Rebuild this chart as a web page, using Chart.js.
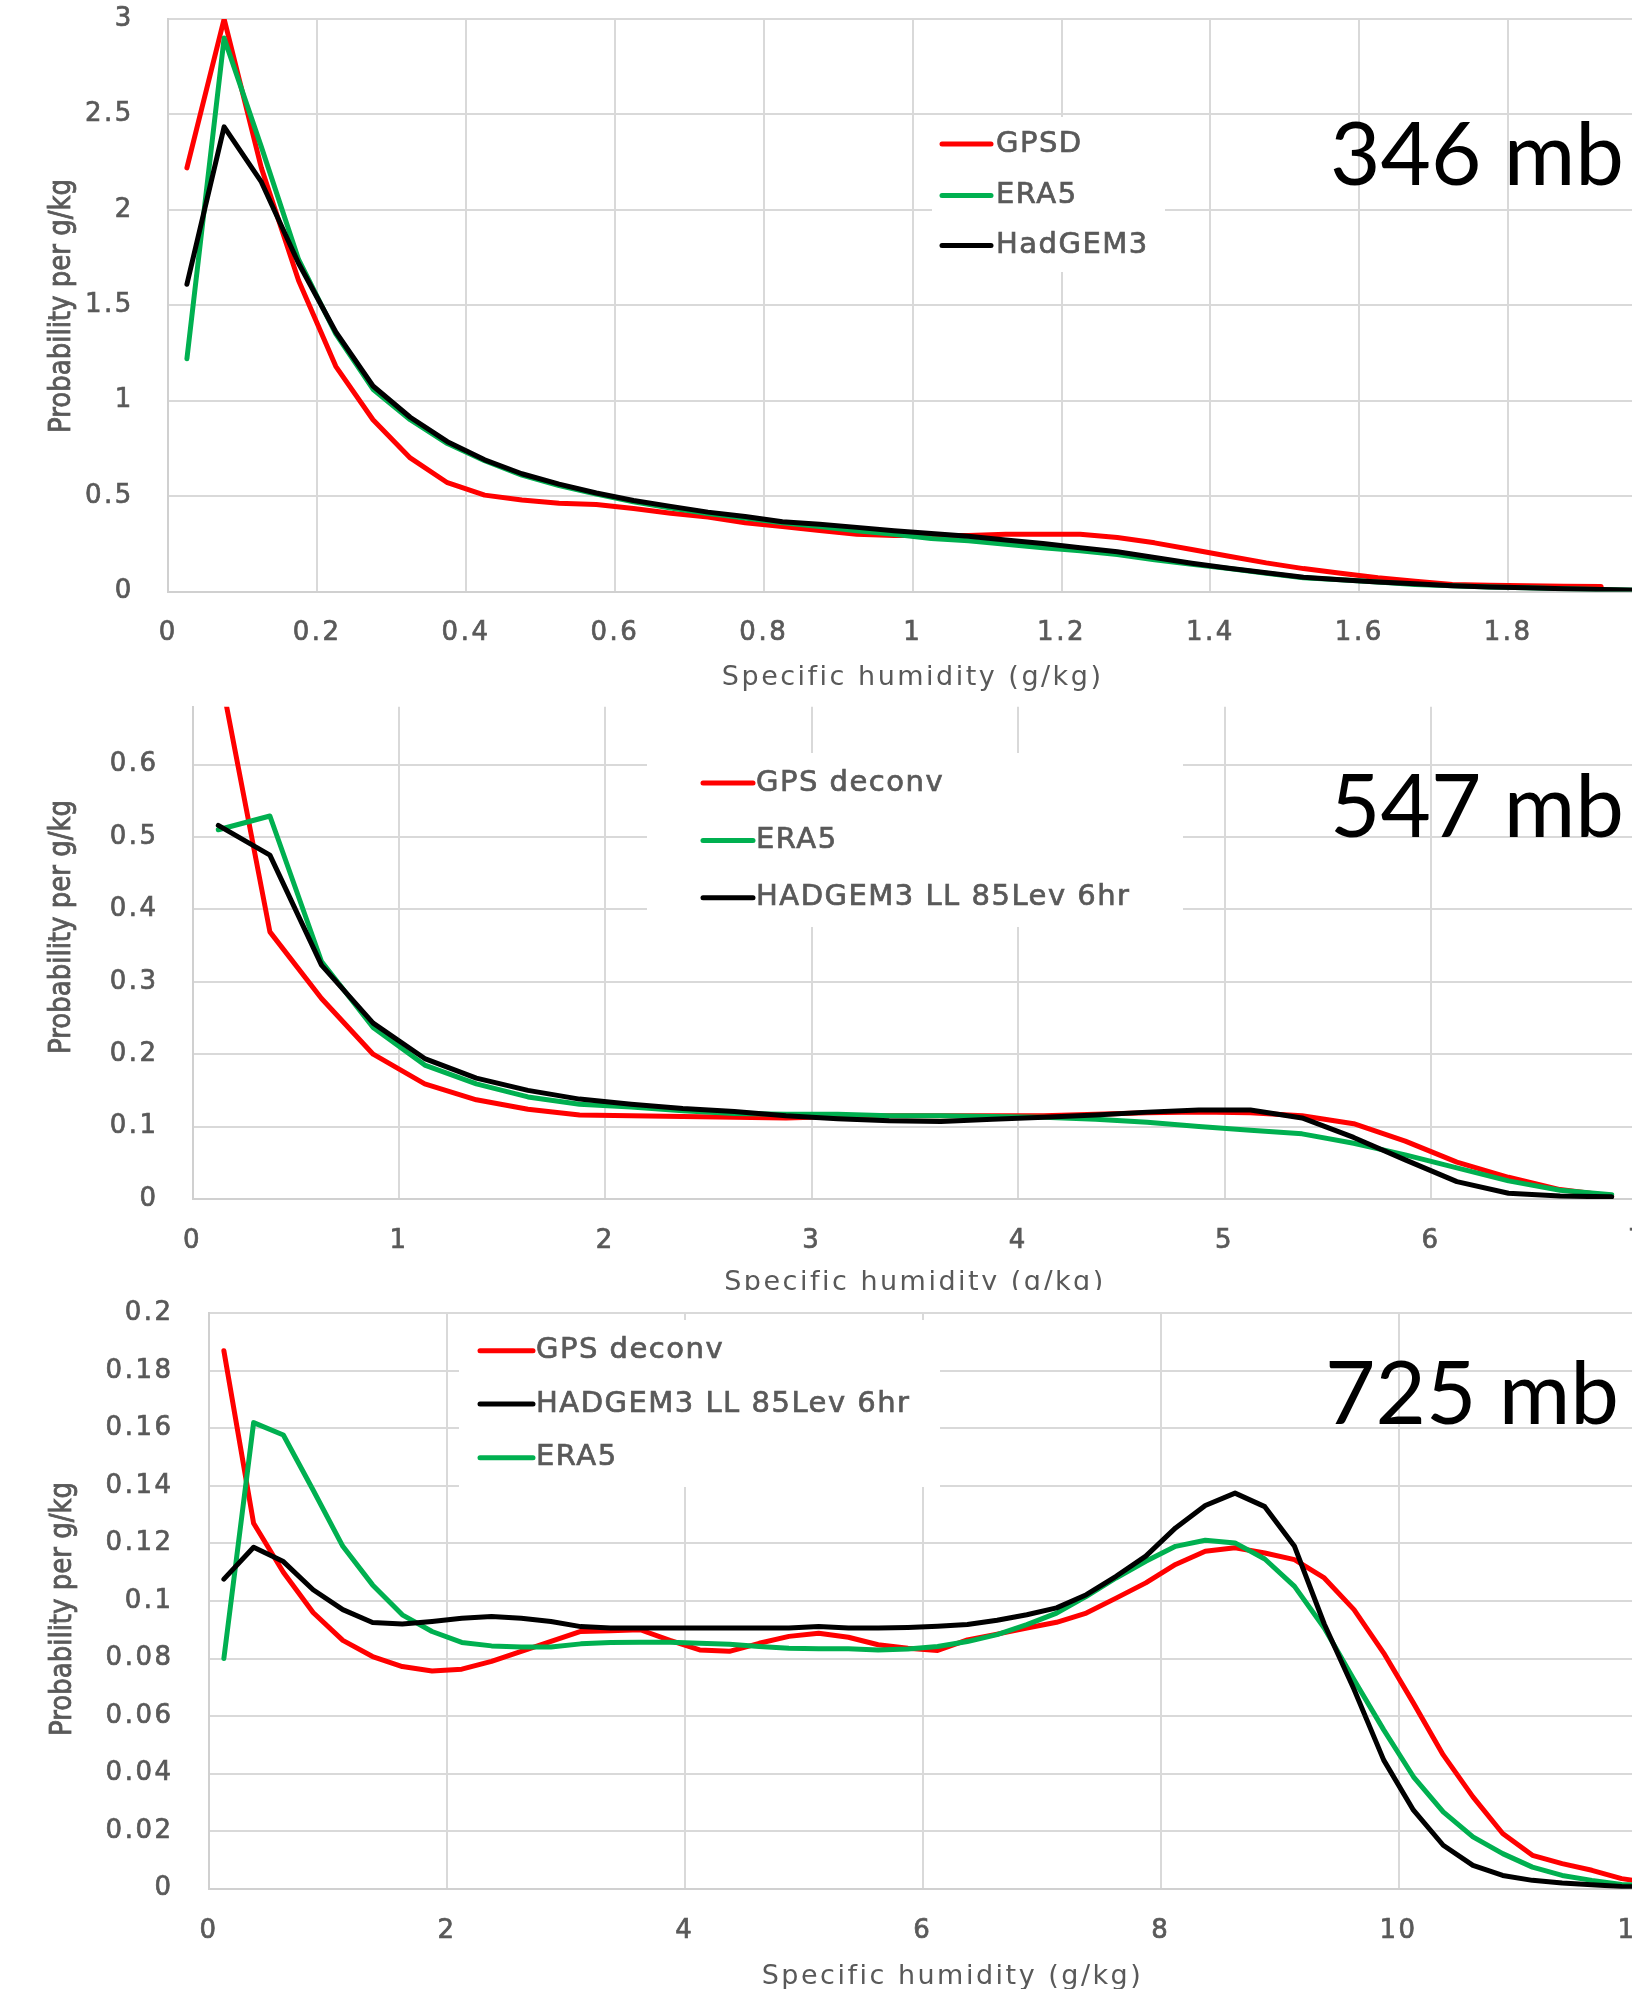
<!DOCTYPE html>
<html><head><meta charset="utf-8">
<script src="https://cdn.jsdelivr.net/npm/chart.js@4.4.1/dist/chart.umd.min.js"></script>
<style>
html,body{margin:0;padding:0;background:#fff;overflow:hidden;width:1632px;height:1989px;position:relative;}
canvas{position:absolute;left:0;}
</style></head><body>
<canvas id="c1" width="1720" height="700" style="top:0px;z-index:1"></canvas>
<canvas id="c2" width="1700" height="600" style="top:700px;z-index:2"></canvas>
<canvas id="c3" width="1760" height="710" style="top:1290px;z-index:3"></canvas>
<script>
// ---------- Panel 1 : 346 mb ----------
const P1_X = [0.025,0.075,0.125,0.175,0.225,0.275,0.325,0.375,0.425,0.475,0.525,0.575,0.625,0.675,0.725,0.775,0.825,0.875,0.925,0.975,1.025,1.075,1.125,1.175,1.225,1.275,1.325,1.375,1.425,1.475,1.525,1.575,1.625,1.675,1.725,1.775,1.825,1.875,1.925,1.975];
const P1_GPSD = [2.22,3.0,2.22,1.63,1.18,0.90,0.70,0.57,0.505,0.48,0.463,0.456,0.435,0.41,0.39,0.36,0.34,0.32,0.30,0.294,0.294,0.294,0.30,0.30,0.30,0.283,0.255,0.22,0.185,0.15,0.12,0.096,0.072,0.054,0.037,0.033,0.03,0.028,0.026];
const P1_ERA5 = [1.22,2.90,2.33,1.74,1.35,1.06,0.90,0.775,0.685,0.61,0.555,0.51,0.47,0.437,0.408,0.385,0.36,0.34,0.318,0.30,0.278,0.266,0.248,0.229,0.213,0.194,0.166,0.143,0.12,0.096,0.072,0.061,0.05,0.037,0.03,0.023,0.019,0.014,0.01,0.007];
const P1_HADGEM3 = [1.61,2.435,2.146,1.72,1.36,1.077,0.913,0.785,0.69,0.617,0.563,0.516,0.477,0.446,0.416,0.393,0.365,0.352,0.336,0.318,0.304,0.29,0.27,0.252,0.229,0.208,0.178,0.148,0.122,0.098,0.075,0.062,0.05,0.04,0.03,0.023,0.019,0.014,0.01,0.007];
const P1_XTICKS = [0,0.2,0.4,0.6,0.8,1,1.2,1.4,1.6,1.8,2];
const P1_YTICKS = [0,0.5,1,1.5,2,2.5,3];

// ---------- Panel 2 : 547 mb ----------
const P2_X = [0.125,0.375,0.625,0.875,1.125,1.375,1.625,1.875,2.125,2.375,2.625,2.875,3.125,3.375,3.625,3.875,4.125,4.375,4.625,4.875,5.125,5.375,5.625,5.875,6.125,6.375,6.625,6.875];
const P2_GPS = [0.74,0.369,0.277,0.200,0.159,0.137,0.124,0.116,0.115,0.114,0.113,0.112,0.114,0.115,0.115,0.115,0.115,0.117,0.119,0.12,0.119,0.115,0.104,0.08,0.051,0.03,0.013,0.004];
const P2_ERA5 = [0.51,0.529,0.328,0.237,0.185,0.159,0.141,0.131,0.127,0.122,0.118,0.117,0.117,0.115,0.115,0.114,0.113,0.11,0.106,0.1,0.095,0.09,0.077,0.061,0.043,0.025,0.012,0.006];
const P2_HADGEM3 = [0.516,0.475,0.323,0.243,0.194,0.167,0.150,0.138,0.131,0.125,0.121,0.115,0.111,0.108,0.107,0.11,0.113,0.116,0.12,0.123,0.123,0.112,0.085,0.054,0.024,0.008,0.004,0.003];
const P2_XTICKS = [0,1,2,3,4,5,6,7];
const P2_YTICKS = [0,0.1,0.2,0.3,0.4,0.5,0.6];

// ---------- Panel 3 : 725 mb ----------
const P3_X = [0.125,0.375,0.625,0.875,1.125,1.375,1.625,1.875,2.125,2.375,2.625,2.875,3.125,3.375,3.625,3.875,4.125,4.375,4.625,4.875,5.125,5.375,5.625,5.875,6.125,6.375,6.625,6.875,7.125,7.375,7.625,7.875,8.125,8.375,8.625,8.875,9.125,9.375,9.625,9.875,10.125,10.375,10.625,10.875,11.125,11.375,11.625,11.875,12.125,12.375];
const P3_GPS = [0.187,0.127,0.110,0.096,0.0863,0.0807,0.0772,0.0757,0.0763,0.079,0.0825,0.086,0.0894,0.0897,0.090,0.0863,0.083,0.0825,0.0853,0.0877,0.0888,0.0874,0.0848,0.0836,0.0828,0.0865,0.0885,0.0906,0.0926,0.0958,0.101,0.1063,0.1127,0.1173,0.1185,0.1167,0.1144,0.108,0.097,0.0819,0.0645,0.0465,0.0319,0.0192,0.0116,0.0087,0.0064,0.0035,0.002,0.0012];
const P3_HADGEM3 = [0.1076,0.1187,0.1137,0.1039,0.097,0.0925,0.092,0.0929,0.094,0.0946,0.094,0.0929,0.0911,0.0906,0.0906,0.0906,0.0906,0.0906,0.0906,0.0906,0.0911,0.0906,0.0906,0.0908,0.0912,0.0918,0.0933,0.0952,0.0976,0.1022,0.1086,0.1156,0.1254,0.1332,0.1375,0.1328,0.119,0.092,0.0693,0.0447,0.0273,0.0151,0.0081,0.0046,0.0029,0.002,0.0014,0.0008,0.0005,0.0003];
const P3_ERA5 = [0.080,0.162,0.1577,0.1386,0.119,0.1056,0.0952,0.0894,0.0856,0.0844,0.084,0.084,0.0851,0.0856,0.0857,0.0857,0.0853,0.085,0.0842,0.0836,0.0834,0.0834,0.083,0.0833,0.0842,0.0859,0.0883,0.0918,0.0958,0.1016,0.108,0.1138,0.119,0.1211,0.1202,0.1146,0.1051,0.0906,0.0726,0.0552,0.0389,0.0267,0.018,0.0122,0.0075,0.0046,0.0029,0.0015,0.001,0.0007];
const P3_XTICKS = [0,2,4,6,8,10,12];
const P3_YTICKS = [0,0.02,0.04,0.06,0.08,0.1,0.12,0.14,0.16,0.18,0.2];

const X_TITLE = 'Specific humidity (g/kg)';
const Y_TITLE = 'Probability per g/kg';

const RED = '#FF0000', GREEN = '#00B050', BLACK = '#000000';
const TEXT = '#595959', GRID = '#D9D9D9', AXIS = '#D0D0D0';
const SPACING = '2.5px';
const FONT = "'DejaVu Sans'";
const STROKE = 0.7;

Chart.defaults.font.family = FONT;
Chart.defaults.color = TEXT;

const fmt = v => String(Math.round(v * 1e6) / 1e6);

const decor = {
  id: 'decor',
  beforeLayout(chart) { chart.ctx.letterSpacing = SPACING; },
  beforeDraw(chart) {
    const ctx = chart.ctx;
    ctx.save();
    ctx.fillStyle = '#ffffff';
    ctx.fillRect(0, 0, chart.width, chart.height);
    ctx.restore();
    ctx.letterSpacing = SPACING;
  },
  afterDatasetsDraw(chart, args, o) {
    const ctx = chart.ctx, lg = o.legend;
    ctx.save();
    ctx.fillStyle = '#ffffff';
    ctx.fillRect(lg.box[0], lg.box[1], lg.box[2], lg.box[3]);
    chart.data.datasets.forEach((ds, i) => {
      const y = lg.rows[i];
      ctx.strokeStyle = ds.borderColor;
      ctx.lineWidth = ds.borderWidth;
      ctx.lineCap = 'round';
      ctx.beginPath(); ctx.moveTo(lg.line[0], y); ctx.lineTo(lg.line[1], y); ctx.stroke();
      ctx.fillStyle = TEXT;
      ctx.strokeStyle = TEXT;
      ctx.lineWidth = STROKE;
      ctx.font = '29px ' + FONT;
      ctx.textAlign = 'left';
      ctx.textBaseline = 'middle';
      ctx.letterSpacing = '1.5px';
      ctx.strokeText(ds.label, lg.textX, y);
      ctx.fillText(ds.label, lg.textX, y);
    });
    ctx.restore();
  },
  afterDraw(chart, args, o) {
    const ctx = chart.ctx;
    ctx.save();
    ctx.letterSpacing = '0px';
    ctx.translate(o.yTitle.x, o.yTitle.y);
    ctx.rotate(-Math.PI / 2);
    ctx.scale(1, 1.18);
    ctx.font = '26px ' + FONT;
    ctx.fillStyle = TEXT;
    ctx.strokeStyle = TEXT;
    ctx.lineWidth = STROKE;
    ctx.textAlign = 'center';
    ctx.textBaseline = 'middle';
    ctx.strokeText(o.yTitle.text, 0, 0);
    ctx.fillText(o.yTitle.text, 0, 0);
    ctx.restore();
    ctx.save();
    ctx.letterSpacing = '0px';
    ctx.font = '87px Lato';
    ctx.fillStyle = '#000000';
    ctx.textAlign = 'left';
    ctx.textBaseline = 'alphabetic';
    ctx.fillText(o.level.text, o.level.x, o.level.y);
    ctx.restore();
  }
};

function panel(id, cfg) {
  const canvas = document.getElementById(id);
  const W = canvas.width, H = canvas.height;
  return new Chart(canvas, {
    type: 'line',
    data: {
      datasets: cfg.series.map(d => ({
        label: d.label,
        data: d.values.map((v, i) => ({ x: cfg.xs[i], y: v })),
        borderColor: d.color,
        backgroundColor: d.color,
        borderWidth: 5,
        pointRadius: 0,
        pointHoverRadius: 0,
        tension: 0,
        fill: false,
        borderCapStyle: 'round',
        borderJoinStyle: 'round',
        order: d.order
      }))
    },
    options: {
      responsive: false,
      animation: false,
      devicePixelRatio: 1,
      events: [],
      layout: { padding: { left: 0, top: cfg.area.top, right: W - cfg.area.right, bottom: 0 } },
      plugins: {
        legend: { display: false },
        tooltip: { enabled: false },
        decor: cfg.decor
      },
      scales: {
        x: {
          type: 'linear',
          min: cfg.xMin, max: cfg.xMax,
          afterBuildTicks: s => { s.ticks = cfg.xTicks.map(v => ({ value: v })); },
          afterFit: s => { s.height = H - cfg.area.bottom; s.paddingLeft = 0; s.paddingRight = 0; },
          grid: { color: GRID, lineWidth: 2, drawTicks: false },
          border: { color: AXIS, width: 2 },
          ticks: { padding: 26.5, font: { size: 26 }, color: TEXT, textStrokeColor: TEXT, textStrokeWidth: STROKE, callback: fmt, maxRotation: 0, autoSkip: false },
          title: { display: true, text: X_TITLE, font: { size: 27 }, color: TEXT, padding: { top: 0, bottom: cfg.xTitlePad } }
        },
        y: {
          type: 'linear',
          min: cfg.yMin, max: cfg.yMax,
          afterBuildTicks: s => { s.ticks = cfg.yTicks.map(v => ({ value: v })); },
          afterFit: s => { s.width = cfg.area.left; s.paddingTop = 0; s.paddingBottom = 0; },
          grid: { color: GRID, lineWidth: 2, drawTicks: false },
          border: { color: AXIS, width: 2 },
          ticks: { padding: cfg.yTickPad, font: { size: 26 }, color: TEXT, textStrokeColor: TEXT, textStrokeWidth: STROKE, callback: fmt, autoSkip: false }
        }
      }
    },
    plugins: [decor]
  });
}

panel('c1', {
  xs: P1_X,
  series: [
    { label: 'GPSD', values: P1_GPSD, color: RED, order: 3 },
    { label: 'ERA5', values: P1_ERA5, color: GREEN, order: 2 },
    { label: 'HadGEM3', values: P1_HADGEM3, color: BLACK, order: 1 }
  ],
  xMin: 0, xMax: 2, yMin: 0, yMax: 3,
  xTicks: P1_XTICKS, yTicks: P1_YTICKS,
  area: { left: 168.3, top: 19, right: 1657, bottom: 591.5 },
  xTitlePad: 5.8, yTickPad: 34.5,
  decor: {
    legend: { box: [932, 117, 233, 155], line: [942, 991], textX: 996, rows: [144, 195.5, 245.5] },
    yTitle: { text: Y_TITLE, x: 62, y: 306 },
    level: { text: '346 mb', x: 1330, y: 185 }
  }
});

panel('c2', {
  xs: P2_X,
  series: [
    { label: 'GPS deconv', values: P2_GPS, color: RED, order: 3 },
    { label: 'ERA5', values: P2_ERA5, color: GREEN, order: 2 },
    { label: 'HADGEM3 LL 85Lev 6hr', values: P2_HADGEM3, color: BLACK, order: 1 }
  ],
  xMin: 0, xMax: 7, yMin: 0, yMax: 0.68,
  xTicks: P2_XTICKS, yTicks: P2_YTICKS,
  area: { left: 192.5, top: 6.7, right: 1637.5, bottom: 499 },
  xTitlePad: 0.8, yTickPad: 34,
  decor: {
    legend: { box: [647, 53, 536, 174], line: [703, 753], textX: 756, rows: [83, 140.4, 197.8] },
    yTitle: { text: Y_TITLE, x: 62, y: 227 },
    level: { text: '547 mb', x: 1330, y: 137.3 }
  }
});

panel('c3', {
  xs: P3_X,
  series: [
    { label: 'GPS deconv', values: P3_GPS, color: RED, order: 3 },
    { label: 'HADGEM3 LL 85Lev 6hr', values: P3_HADGEM3, color: BLACK, order: 1 },
    { label: 'ERA5', values: P3_ERA5, color: GREEN, order: 2 }
  ],
  xMin: 0, xMax: 12.5, yMin: 0, yMax: 0.2,
  xTicks: P3_XTICKS, yTicks: P3_YTICKS,
  area: { left: 209, top: 23.3, right: 1696, bottom: 598.7 },
  xTitlePad: 6.8, yTickPad: 35.5,
  decor: {
    legend: { box: [459, 30, 481, 167], line: [480, 533], textX: 536, rows: [60.7, 114, 167.7] },
    yTitle: { text: Y_TITLE, x: 63, y: 319 },
    level: { text: '725 mb', x: 1325, y: 133.7 }
  }
});
</script>
</body></html>
